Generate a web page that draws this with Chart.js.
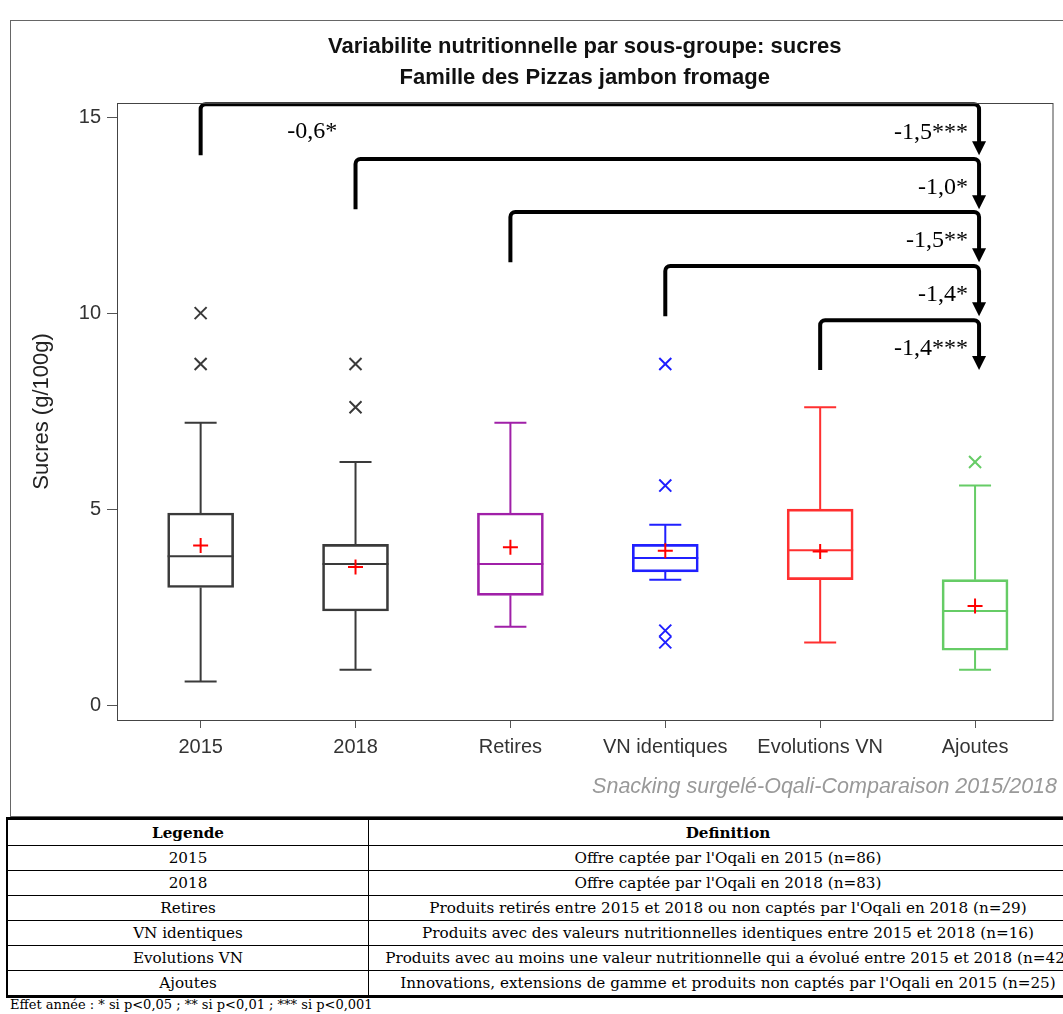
<!DOCTYPE html>
<html>
<head>
<meta charset="utf-8">
<script src="https://cdn.jsdelivr.net/npm/chart.js@4.4.1/dist/chart.umd.min.js"></script>
<style>
  html, body { margin: 0; padding: 0; background: #fff; overflow: hidden; }
  #frame { position: absolute; left: 10px; top: 20px; width: 1070px; height: 797px; border: 1px solid #666; box-sizing: border-box; }
  #chart { position: absolute; left: 11px; top: 21px; }
  #legend { position: absolute; left: 6px; top: 817px; width: 1082px; border-collapse: collapse; font-family: "DejaVu Serif", serif; font-size: 15.2px; color: #000; }
  #legend td, #legend th { border: 1px solid #000; text-align: center; padding: 0; height: 24px; line-height: 22px; white-space: nowrap; }
  #legend th { height: 25px; font-weight: bold; }
  #legend tr:first-child th { border-top: 3px solid #000; }
  #legend tr:last-child td { border-bottom: 3px solid #000; }
  #legend td:first-child, #legend th:first-child { border-left: 2px solid #000; width: 360px; }
  #note { position: absolute; left: 10px; top: 997px; font-family: "DejaVu Serif", serif; font-size: 13px; }
</style>
</head>
<body>
<div id="frame"></div>
<canvas id="chart" width="1052" height="795"></canvas>
<table id="legend">
  <tr><th>Legende</th><th>Definition</th></tr>
  <tr><td>2015</td><td>Offre captée par l'Oqali en 2015 (n=86)</td></tr>
  <tr><td>2018</td><td>Offre captée par l'Oqali en 2018 (n=83)</td></tr>
  <tr><td>Retires</td><td>Produits retirés entre 2015 et 2018 ou non captés par l'Oqali en 2018 (n=29)</td></tr>
  <tr><td>VN identiques</td><td>Produits avec des valeurs nutritionnelles identiques entre 2015 et 2018 (n=16)</td></tr>
  <tr><td>Evolutions VN</td><td>Produits avec au moins une valeur nutritionnelle qui a évolué entre 2015 et 2018 (n=42)</td></tr>
  <tr><td>Ajoutes</td><td>Innovations, extensions de gamme et produits non captés par l'Oqali en 2015 (n=25)</td></tr>
</table>
<div id="note">Effet année : * si p&lt;0,05 ; ** si p&lt;0,01 ; *** si p&lt;0,001</div>
<script>
var categories = ['2015', '2018', 'Retires', 'VN identiques', 'Evolutions VN', 'Ajoutes'];
var boxColors = ['#3a3a3a', '#3a3a3a', '#a020a8', '#2020ff', '#ff3030', '#66cc66'];

var whiskerLow = [0.6, 0.9, 2.0, 3.2, 1.6, 0.9];
var q1 = [3.0, 2.4, 2.8, 3.4, 3.2, 1.4];
var median = [3.8, 3.6, 3.6, 3.75, 3.95, 2.4];
var q3 = [4.9, 4.1, 4.9, 4.1, 5.0, 3.2];
var whiskerHigh = [7.2, 6.2, 7.2, 4.6, 7.6, 5.6];
var means = [4.07, 3.52, 4.03, 3.94, 3.92, 2.53];
var outliers = [[10.0, 8.7], [8.7, 7.6], [], [8.7, 5.6, 1.9, 1.6], [], [6.2]];

var yTicks = [0, 5, 10, 15];

// comparisons against "Ajoutes"
var bracketFrom = [1, 2, 3, 4, 5];
var bracketTo = 6;
var bracketTop = [15.33, 13.93, 12.58, 11.2, 9.82];
var bracketLow = [14.03, 12.65, 11.3, 9.92, 8.55];
var bracketLabels = ['-1,5***', '-1,0*', '-1,5**', '-1,4*', '-1,4***'];
var yearLabel = '-0,6*';
var yearLabelPos = [1.72, 14.62];

var titleLines = ['Variabilite nutritionnelle par sous-groupe: sucres', 'Famille des Pizzas jambon fromage'];
var footer = 'Snacking surgelé-Oqali-Comparaison 2015/2018';

Chart.defaults.font.family = '"Liberation Sans", Arial, sans-serif';
Chart.defaults.color = '#333';

var boxData = categories.map(function (c, i) { return { x: i + 1, y: [q1[i], q3[i]] }; });
var meanData = categories.map(function (c, i) { return { x: i + 1, y: means[i] }; });
var outlierData = [];
var outlierColors = [];
outliers.forEach(function (list, i) {
  list.forEach(function (v) {
    outlierData.push({ x: i + 1, y: v });
    outlierColors.push(boxColors[i]);
  });
});

var boxParts = {
  id: 'boxParts',
  beforeDatasetsDraw: function (chart) {
    var ctx = chart.ctx, x = chart.scales.x, y = chart.scales.y;
    ctx.save();
    ctx.lineWidth = 2;
    categories.forEach(function (c, i) {
      var px = x.getPixelForValue(i + 1);
      ctx.strokeStyle = boxColors[i];
      ctx.beginPath();
      ctx.moveTo(px, y.getPixelForValue(q3[i]));
      ctx.lineTo(px, y.getPixelForValue(whiskerHigh[i]));
      ctx.moveTo(px - 16, y.getPixelForValue(whiskerHigh[i]));
      ctx.lineTo(px + 16, y.getPixelForValue(whiskerHigh[i]));
      ctx.moveTo(px, y.getPixelForValue(q1[i]));
      ctx.lineTo(px, y.getPixelForValue(whiskerLow[i]));
      ctx.moveTo(px - 16, y.getPixelForValue(whiskerLow[i]));
      ctx.lineTo(px + 16, y.getPixelForValue(whiskerLow[i]));
      ctx.moveTo(px - 33, y.getPixelForValue(median[i]));
      ctx.lineTo(px + 33, y.getPixelForValue(median[i]));
      ctx.stroke();
    });
    ctx.restore();
  },
  afterDraw: function (chart) {
    var ctx = chart.ctx, a = chart.chartArea;
    ctx.save();
    ctx.strokeStyle = '#444';
    ctx.lineWidth = 1;
    ctx.strokeRect(a.left + 0.5, a.top + 0.5, a.right - a.left, a.bottom - a.top);

    var cx = (a.left + a.right) / 2;
    ctx.fillStyle = '#111';
    ctx.textAlign = 'center';
    ctx.textBaseline = 'middle';
    ctx.font = 'bold 22px "Liberation Sans", Arial, sans-serif';
    ctx.fillText(titleLines[0], cx, 26);
    ctx.fillText(titleLines[1], cx, 57);

    ctx.fillStyle = '#999';
    ctx.textAlign = 'right';
    ctx.font = 'italic 21.5px "Liberation Sans", Arial, sans-serif';
    ctx.fillText(footer, chart.width - 6, 766);
    ctx.restore();
  }
};

var brackets = {
  id: 'brackets',
  afterDatasetsDraw: function (chart) {
    var ctx = chart.ctx, x = chart.scales.x, y = chart.scales.y;
    var x1 = x.getPixelForValue(bracketTo) + 4;
    ctx.save();
    ctx.strokeStyle = '#000';
    ctx.fillStyle = '#000';
    ctx.lineWidth = 4;
    ctx.lineJoin = 'round';
    ctx.font = '24px "Liberation Serif", serif';
    ctx.textBaseline = 'middle';
    bracketFrom.forEach(function (c, i) {
      var x0 = x.getPixelForValue(c);
      var yTop = y.getPixelForValue(bracketTop[i]);
      var yLow = y.getPixelForValue(bracketLow[i]);
      ctx.beginPath();
      ctx.moveTo(x0, yLow);
      ctx.arcTo(x0, yTop, x1, yTop, 5);
      ctx.arcTo(x1, yTop, x1, yLow, 5);
      ctx.lineTo(x1, yLow - 12);
      ctx.stroke();
      ctx.beginPath();
      ctx.moveTo(x1 - 7, yLow - 14);
      ctx.lineTo(x1 + 7, yLow - 14);
      ctx.lineTo(x1, yLow);
      ctx.closePath();
      ctx.fill();
      ctx.textAlign = 'right';
      ctx.fillText(bracketLabels[i], x1 - 11, y.getPixelForValue(bracketTop[i] - 0.73));
    });
    ctx.textAlign = 'center';
    ctx.fillText(yearLabel, x.getPixelForValue(yearLabelPos[0]), y.getPixelForValue(yearLabelPos[1]));
    ctx.restore();
  }
};

new Chart(document.getElementById('chart'), {
  type: 'bar',
  data: {
    datasets: [{
      type: 'scatter',
      data: meanData,
      pointStyle: 'cross',
      pointRadius: 7.5,
      borderColor: '#ff0000',
      borderWidth: 2,
      order: 1
    }, {
      type: 'scatter',
      data: outlierData,
      pointStyle: 'crossRot',
      pointRadius: 8.5,
      borderColor: outlierColors,
      borderWidth: 2,
      order: 2
    }, {
      type: 'bar',
      data: boxData,
      barThickness: 66,
      backgroundColor: 'rgba(0,0,0,0)',
      borderColor: boxColors,
      borderWidth: 2,
      borderSkipped: false,
      order: 3
    }]
  },
  options: {
    responsive: false,
    animation: false,
    events: [],
    layout: { padding: { left: 0, right: 9, top: 82, bottom: 0 } },
    plugins: { legend: { display: false }, tooltip: { enabled: false } },
    scales: {
      x: {
        type: 'linear',
        min: 0.46,
        max: 6.5,
        offset: false,
        afterBuildTicks: function (scale) {
          scale.ticks = categories.map(function (c, i) { return { value: i + 1 }; });
        },
        afterFit: function (scale) { scale.height = 96; },
        ticks: {
          callback: function (v) { return categories[v - 1]; },
          font: { size: 20 },
          color: '#333',
          padding: 7,
          maxRotation: 0,
          autoSkip: false
        },
        grid: { drawOnChartArea: false, offset: false, tickLength: 8, tickColor: '#555' },
        border: { color: '#444' }
      },
      y: {
        min: -0.38,
        max: 15.36,
        afterBuildTicks: function (scale) {
          scale.ticks = yTicks.map(function (v) { return { value: v }; });
        },
        afterFit: function (scale) { scale.width = 106; },
        ticks: { font: { size: 20 }, color: '#333', padding: 6 },
        grid: { drawOnChartArea: false, tickLength: 10, tickColor: '#555' },
        border: { color: '#444' },
        title: {
          display: true,
          text: 'Sucres (g/100g)',
          font: { size: 22 },
          color: '#222',
          padding: { top: 18, bottom: 0 }
        }
      }
    }
  },
  plugins: [boxParts, brackets]
});
</script>
</body>
</html>
